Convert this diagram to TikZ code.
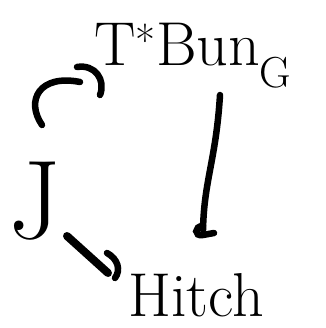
\documentclass[tikz,border=0pt]{standalone}
\usepackage{amsmath}
\usepackage{tikz}
\definecolor{inkblack}{RGB}{0,0,0}

\begin{document}
\begin{tikzpicture}[x=1pt,y=-1pt,
    stroke/.style={inkblack,line width=6.5pt,line cap=round},
    bigtext/.style={inkblack,inner sep=0pt,anchor=base west,font=\fontsize{62}{62}\selectfont}]
    \useasboundingbox (0,0) rectangle (325,328);

    % The three spaces
    \node[bigtext] (bun) at (94,66) {T\textsuperscript{*}Bun\textsubscript{G}};
    \node[bigtext,font=\fontsize{112}{112}\selectfont] (jac) at (8,238) {J};
    \node[bigtext] (hitch) at (128,316) {Hitch};

    % Hooked arc from J up to T*Bun_G
    \coordinate (hook start) at (42,125);
    \coordinate (hook end) at (80,82);
    \draw[stroke] (hook start) .. controls (25,100) and (40,74) .. (hook end);
    \draw[stroke] (77,67) .. controls (95,64) and (106,80) .. (100,95);

    % Vertical map down to Hitch
    \coordinate (bar top) at (220,95);
    \coordinate (bar foot) at (203,230);
    \draw[stroke] (bar top) .. controls (216,160) and (204,180) .. (bar foot);
    \draw[stroke] (203,226) .. controls (194,226) and (194,237) .. (203,235) -- (214,233);

    % Double stroke from J to Hitch
    \coordinate (dbl start) at (67,236);
    \coordinate (dbl end) at (108,273);
    \draw[stroke,line width=8pt] (dbl start) -- (dbl end);
    \draw[stroke] (107,253) .. controls (118,259) and (121,270) .. (115,278);
\end{tikzpicture}
\end{document}
